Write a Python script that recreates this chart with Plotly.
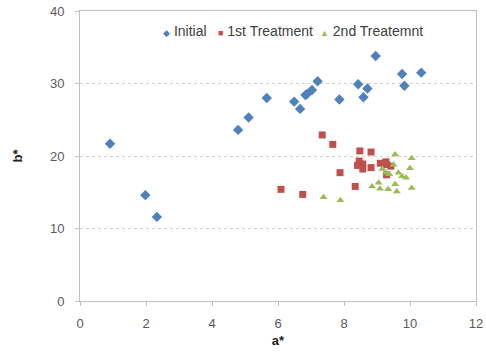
import plotly.graph_objects as go

init_a = [0.91, 1.98, 2.33, 4.79, 5.11, 5.66, 6.49, 6.67, 6.83, 6.88, 7.03, 7.2, 7.86, 8.43, 8.59, 8.71, 8.96, 9.76, 9.83, 10.34]
init_b = [21.7, 14.6, 11.6, 23.6, 25.3, 28.0, 27.5, 26.5, 28.4, 28.55, 29.1, 30.3, 27.8, 29.9, 28.1, 29.3, 33.8, 31.3, 29.7, 31.5]

t1_a = [6.09, 6.75, 7.34, 7.66, 7.88, 8.34, 8.41, 8.46, 8.48, 8.57, 8.57, 8.82, 8.82, 9.1, 9.27, 9.3, 9.42, 9.29]
t1_b = [15.4, 14.7, 22.9, 21.6, 17.7, 15.8, 18.7, 19.3, 20.7, 18.9, 18.2, 20.55, 18.4, 19.0, 19.2, 18.8, 18.6, 17.4]

t2_a = [7.38, 7.89, 8.85, 9.05, 9.09, 9.16, 9.27, 9.34, 9.37, 9.5, 9.55, 9.55, 9.6, 9.65, 9.76, 9.88, 10.0, 10.05, 10.05]
t2_b = [14.3, 13.9, 15.8, 16.3, 15.5, 18.2, 17.7, 15.4, 17.5, 18.8, 20.2, 16.1, 15.1, 17.7, 17.2, 17.0, 18.3, 19.7, 15.6]

x_ticks = [0, 2, 4, 6, 8, 10, 12]
y_ticks = [0, 10, 20, 30, 40]

series_names = ["Initial", "1st Treatment", "2nd Treatemnt"]
colors = ["#4F81BD", "#C0504D", "#9BBB59"]
legend_glyphs = ["◆", "■", "▲"]
legend_x = [0.205, 0.343, 0.602]

fig = go.Figure()
fig.add_trace(go.Scatter(x=init_a, y=init_b, mode="markers", name=series_names[0],
                         marker=dict(symbol="diamond", size=8, color=colors[0])))
fig.add_trace(go.Scatter(x=t1_a, y=t1_b, mode="markers", name=series_names[1],
                         marker=dict(symbol="square", size=7, color=colors[1])))
fig.add_trace(go.Scatter(x=t2_a, y=t2_b, mode="markers", name=series_names[2],
                         marker=dict(symbol="triangle-up", size=7, color=colors[2])))

for name, col, glyph, lx in zip(series_names, colors, legend_glyphs, legend_x):
    fig.add_annotation(
        text=f"<span style='color:{col};font-size:9px'>{glyph}</span> {name}",
        xref="paper", yref="paper", x=lx, y=0.931, xanchor="left", yanchor="middle",
        showarrow=False, font=dict(family="Liberation Sans, Arial", size=14, color="#404040"))

fig.update_layout(
    width=486, height=354,
    margin=dict(l=80, r=10, t=11, b=53),
    paper_bgcolor="white", plot_bgcolor="white",
    font=dict(family="Liberation Sans, Arial", size=12, color="#595959"),
    showlegend=False,
    xaxis=dict(range=[0, 12], tickvals=x_ticks, showgrid=False, zeroline=False,
               showline=True, linecolor="#BFBFBF", mirror=True, ticks="outside",
               ticklen=4, tickcolor="#BFBFBF", automargin=False, ticklabelstandoff=6,
               ticklabeloverflow="allow", tickfont=dict(size=13),
               title=dict(text="<b>a*</b>", font=dict(size=13, color="#222222"), standoff=6)),
    yaxis=dict(range=[0, 40], tickvals=y_ticks, showgrid=True, gridcolor="#D0D0D0",
               griddash="dot", zeroline=False, showline=True, linecolor="#BFBFBF",
               mirror=True, ticks="outside", ticklen=4, tickcolor="#BFBFBF", automargin=False,
               ticklabelstandoff=8, ticklabeloverflow="allow", tickfont=dict(size=13),
               title=dict(text="<b>b*</b>", font=dict(size=13, color="#222222"), standoff=24)),
)

fig.write_html("out.html", config={"displayModeBar": False},
               post_script="document.body.style.margin='0';document.body.style.overflow='hidden';")
